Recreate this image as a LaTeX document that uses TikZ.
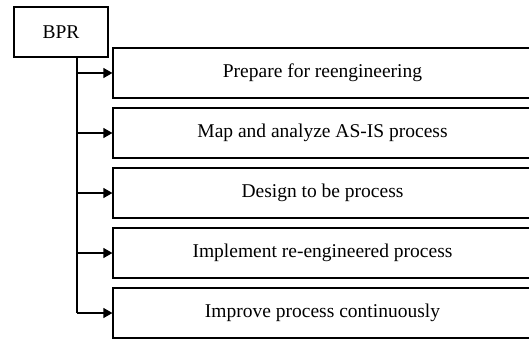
\documentclass[tikz,border=0pt]{standalone}
\usepackage{fontspec}
\setmainfont{Liberation Serif}
\usetikzlibrary{arrows.meta}
\begin{document}
\begin{tikzpicture}[x=1pt,y=-1pt,line width=1.2pt,
    stepbox/.style={draw,minimum width=419pt,minimum height=50pt,inner sep=0pt,font=\fontsize{19.5}{22}\selectfont},
    topbox/.style={draw,minimum width=94pt,minimum height=50pt,inner sep=0pt,font=\fontsize{19.5}{22}\selectfont},
    link/.style={-{Triangle[length=9pt,width=10pt]}}]
  \useasboundingbox (0,0) rectangle (529,339);
  \node[topbox] (bpr) at (61,32) {BPR};
  \coordinate (trunk) at (77,57);
  \begin{scope}
    \foreach \i/\txt in {1/Prepare for reengineering,
                         2/Map and analyze AS-IS process,
                         3/Design to be process,
                         4/Implement re-engineered process,
                         5/Improve process continuously}
    {
      \node[stepbox] (s\i) at (322.5,13+60*\i) {\txt};
    }
  \end{scope}
  \draw (trunk) -- (trunk |- s5.west);
  \foreach \i in {1,...,5}
    \draw[link] (trunk |- s\i.west) -- (s\i.west);
\end{tikzpicture}
\end{document}
